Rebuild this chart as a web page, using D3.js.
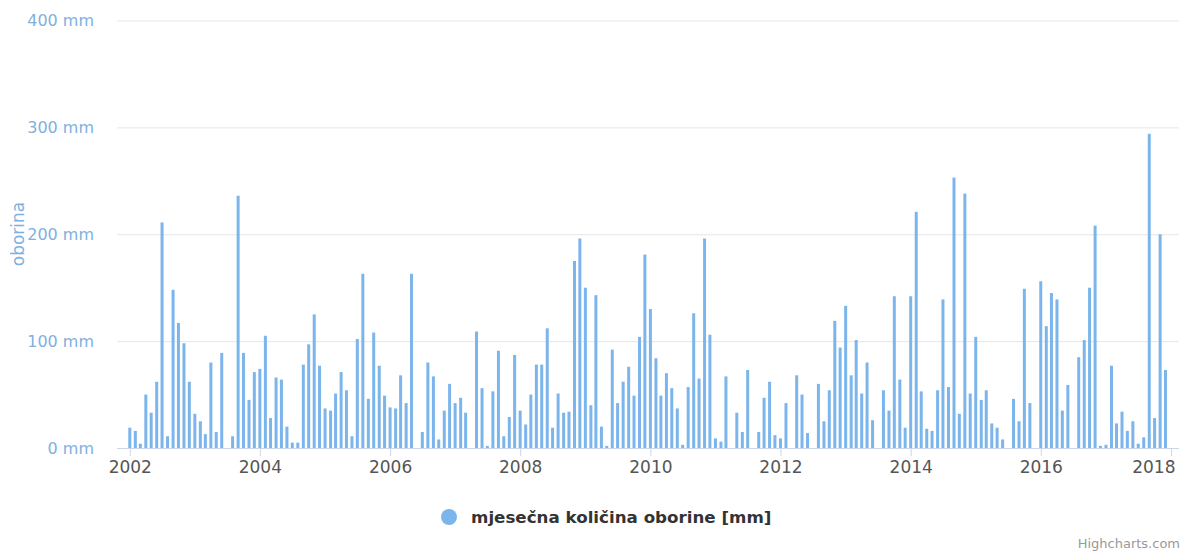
<!DOCTYPE html>
<html><head><meta charset="utf-8">
<script src="https://cdn.jsdelivr.net/npm/d3@7"></script>
<style>body{margin:0;background:#fff;} svg{display:block;font-family:"DejaVu Sans",sans-serif;}</style>
</head><body><svg id="c" width="1185" height="552"></svg>
<script>
const startYear = 2002;
const rain2002 = [19, 16, 4, 50, 33, 62, 211, 11, 148, 117, 98, 62];
const rain2003 = [32, 25, 13, 80, 15, 89, null, 11, 236, 89, 45, 71];
const rain2004 = [74, 105, 28, 66, 64, 20, 5, 5, 78, 97, 125, 77];
const rain2005 = [37, 35, 51, 71, 54, 11, 102, 163, 46, 108, 77, 49];
const rain2006 = [38, 37, 68, 42, 163, null, 15, 80, 67, 8, 35, 60];
const rain2007 = [42, 47, 33, null, 109, 56, 2, 53, 91, 11, 29, 87];
const rain2008 = [35, 22, 50, 78, 78, 112, 19, 51, 33, 34, 175, 196];
const rain2009 = [150, 40, 143, 20, 2, 92, 42, 62, 76, 49, 104, 181];
const rain2010 = [130, 84, 49, 70, 56, 37, 3, 57, 126, 65, 196, 106];
const rain2011 = [9, 6, 67, null, 33, 15, 73, null, 15, 47, 62, 12];
const rain2012 = [9, 42, null, 68, 50, 14, null, 60, 25, 54, 119, 94];
const rain2013 = [133, 68, 101, 51, 80, 26, null, 54, 35, 142, 64, 19];
const rain2014 = [142, 221, 53, 18, 16, 54, 139, 57, 253, 32, 238, 51];
const rain2015 = [104, 45, 54, 23, 19, 8, null, 46, 25, 149, 42, null];
const rain2016 = [156, 114, 145, 139, 35, 59, null, 85, 101, 150, 208, 2];
const rain2017 = [3, 77, 23, 34, 16, 25, 4, 10, 294, 28, 200, 73];
const yearlyRain = [rain2002, rain2003, rain2004, rain2005, rain2006, rain2007, rain2008, rain2009,
  rain2010, rain2011, rain2012, rain2013, rain2014, rain2015, rain2016, rain2017];
const tickYears = [2002, 2004, 2006, 2008, 2010, 2012, 2014, 2016, 2018];
const yTicks = [0, 100, 200, 300, 400];
const seriesName = "mjesečna količina oborine [mm]";
const yTitle = "oborina";
const credits = "Highcharts.com";

const data = [];
yearlyRain.forEach((arr, i) => arr.forEach((v, m) => {
  if (v !== null) data.push({ date: new Date(startYear + i, m, 1), value: v });
}));

const plotL = 117, plotR = 1179;
const x = d3.scaleTime().domain([new Date(2002, 0, 1), new Date(2018, 0, 1)]).range([129.8, 1171]);
const y = d3.scaleLinear().domain([0, 400]).range([448, 20.5]);
const svg = d3.select("#c");
const blue = "#7cb5ec";
const font = '"DejaVu Sans",sans-serif';

// y axis with gridlines
const ya = svg.append("g").attr("transform", `translate(${plotL},0)`)
  .call(d3.axisLeft(y).tickValues(yTicks).tickSize(-(plotR - plotL)).tickPadding(23)
    .tickFormat(d => d + " mm"));
ya.select(".domain").remove();
ya.selectAll(".tick line").attr("stroke", "#e6e6e6");
ya.selectAll(".tick text").attr("fill", "#7fb0df").style("font-size", "16px")
  .style("font-family", font);

svg.append("text").attr("transform", "translate(24,234) rotate(-90)")
  .attr("text-anchor", "middle").attr("fill", "#7fb0df").style("font-size", "17px").text(yTitle);

// bars
svg.append("g").selectAll("rect").data(data).join("rect")
  .attr("x", d => x(d.date) - 1.5).attr("width", 3)
  .attr("y", d => y(d.value)).attr("height", d => y(0) - y(d.value))
  .attr("fill", blue);

// x axis
const xa = svg.append("g").attr("transform", `translate(0,${y(0)})`)
  .call(d3.axisBottom(x).tickValues(tickYears.map(t => new Date(t, 0, 1))).tickSize(8).tickPadding(5)
    .tickFormat(d3.timeFormat("%Y")));
xa.select(".domain").remove();
xa.selectAll(".tick line").attr("stroke", "#ccd6eb");
xa.selectAll(".tick text").attr("fill", "#555").style("font-size", "17px")
  .style("font-family", font);
// keep the last label inside the chart (justified like the original)
const lastX = x(new Date(tickYears[tickYears.length - 1], 0, 1));
xa.selectAll(".tick text").filter((d, i, n) => i === n.length - 1)
  .attr("text-anchor", "end").attr("x", 1175 - lastX);
svg.append("line").attr("x1", plotL).attr("x2", plotR).attr("y1", y(0) + 0.5).attr("y2", y(0) + 0.5)
  .attr("stroke", "#ccd6eb");

// legend
svg.append("circle").attr("cx", 449).attr("cy", 517).attr("r", 8).attr("fill", blue);
svg.append("text").attr("x", 471).attr("y", 523).attr("fill", "#333").style("font-size", "16.7px")
  .style("font-weight", "bold").text(seriesName);

svg.append("text").attr("x", 1180).attr("y", 548).attr("text-anchor", "end").attr("fill", "#999")
  .style("font-size", "13px").text(credits);
</script></body></html>
